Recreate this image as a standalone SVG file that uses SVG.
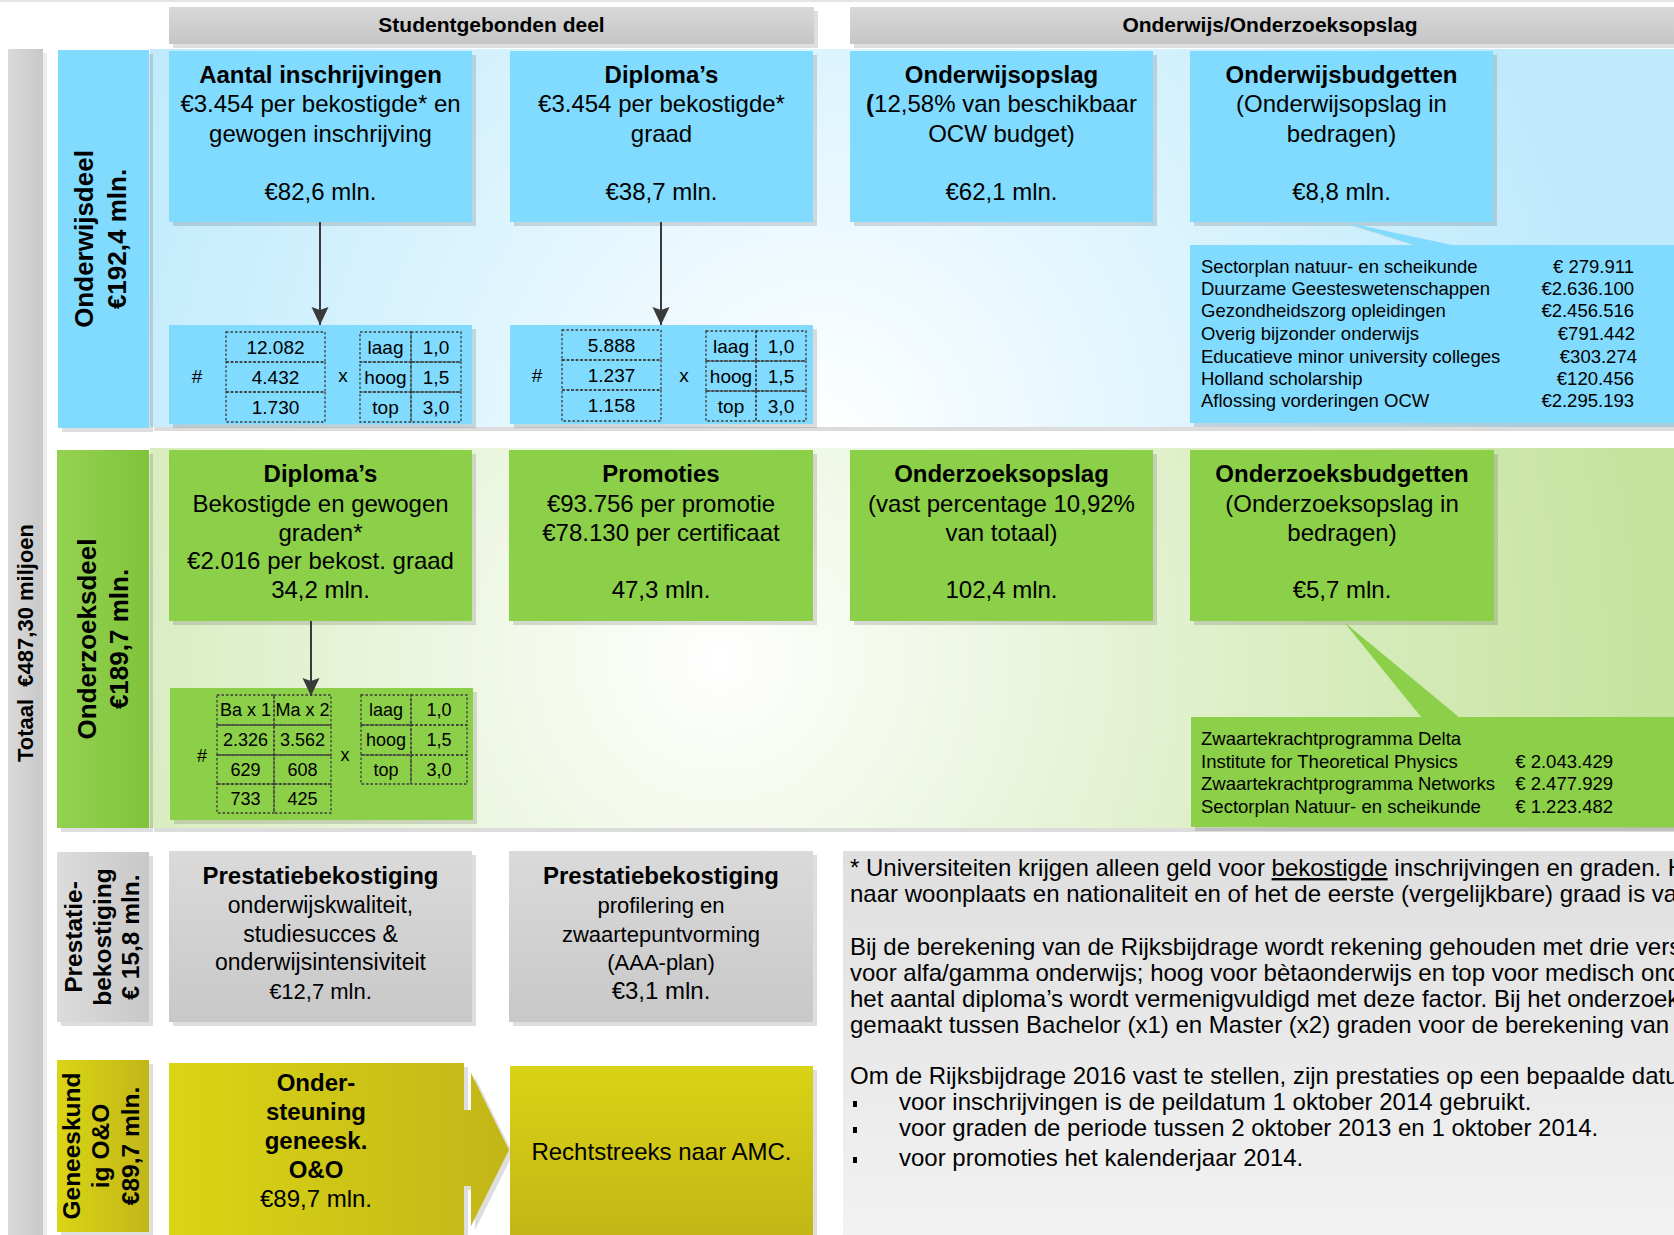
<svg xmlns="http://www.w3.org/2000/svg" width="1674" height="1235" viewBox="0 0 1674 1235">
<defs>
<style>
text{font-family:"Liberation Sans",Arial,sans-serif;fill:#000}
.b24{font-size:24px;font-weight:bold}
.r24{font-size:24px}
.r22{font-size:22px}
.h21{font-size:21px;font-weight:bold}
.c{text-anchor:middle}
.e{text-anchor:end}
.t19{font-size:19px}
.t18{font-size:18px}
.cal{font-size:18.5px}
.lab{font-size:26px;font-weight:bold}
.lab2{font-size:24.5px;font-weight:bold}
.blue{fill:#80dbff}
.green{fill:#8ccf48}
.sh{fill:#000;opacity:0.13}
.dot{fill:none;stroke:#3c3c3c;stroke-width:1.3;stroke-dasharray:2.5 2}
.con{stroke:#3a3a3a;stroke-width:2;fill:none}
</style>
<linearGradient id="gHead" x1="0" y1="0" x2="0" y2="1"><stop offset="0" stop-color="#d8d8d8"/><stop offset="1" stop-color="#c6c6c6"/></linearGradient>
<linearGradient id="gBar" x1="0" y1="0" x2="1" y2="0"><stop offset="0" stop-color="#dadada"/><stop offset="1" stop-color="#c8c8c8"/></linearGradient>
<radialGradient id="gBlueBand" gradientUnits="userSpaceOnUse" cx="820" cy="440" r="780" fx="820" fy="440"><stop offset="0" stop-color="#ffffff"/><stop offset="0.5" stop-color="#dcf4fe"/><stop offset="1" stop-color="#bfeafc"/></radialGradient>
<radialGradient id="gGreenBand" gradientUnits="userSpaceOnUse" cx="720" cy="660" r="950" fx="720" fy="660"><stop offset="0" stop-color="#ffffff"/><stop offset="0.5" stop-color="#e0f0cc"/><stop offset="1" stop-color="#c4e39c"/></radialGradient>
<linearGradient id="gGreenLab" x1="0" y1="0" x2="1" y2="0"><stop offset="0" stop-color="#94d252"/><stop offset="1" stop-color="#80c43a"/></linearGradient>
<linearGradient id="gGray" x1="0" y1="0" x2="0" y2="1"><stop offset="0" stop-color="#dadada"/><stop offset="1" stop-color="#c8c8c8"/></linearGradient>
<linearGradient id="gGrayLab" x1="0" y1="0" x2="1" y2="0"><stop offset="0" stop-color="#dcdcdc"/><stop offset="1" stop-color="#c8c8c8"/></linearGradient>
<linearGradient id="gYelH" x1="0" y1="0" x2="1" y2="0"><stop offset="0" stop-color="#dad515"/><stop offset="1" stop-color="#c2b618"/></linearGradient>
<linearGradient id="gYelV" x1="0" y1="0" x2="0" y2="1"><stop offset="0" stop-color="#d9d315"/><stop offset="1" stop-color="#c3b616"/></linearGradient>
<linearGradient id="gNote" x1="0" y1="0" x2="0" y2="1"><stop offset="0" stop-color="#dfdfdf"/><stop offset="1" stop-color="#f2f2f2"/></linearGradient>
<marker id="arr" markerUnits="userSpaceOnUse" markerWidth="18" markerHeight="18" refX="18" refY="8.5" orient="auto"><path d="M0,0 L18,8.5 L0,17 L3,8.5 Z" fill="#3a3a3a"/></marker>
</defs>
<rect width="1674" height="1235" fill="#ffffff"/>
<rect x="0" y="0" width="1674" height="2" fill="#e4e4e4"/>

<g id="totaal">
<rect x="8" y="49" width="35" height="1186" fill="url(#gBar)"/>
<rect x="43" y="53" width="4" height="1182" fill="#ececec"/>
<text class="h21" style="font-size:22px" text-anchor="middle" transform="translate(33,643) rotate(-90)">Totaal&#160; €487,30 miljoen</text>
</g>

<g id="header-student">
<rect x="173" y="11" width="645" height="37" class="sh"/>
<rect x="169" y="7" width="645" height="37" fill="url(#gHead)"/>
<text x="491.5" y="32" class="h21 c">Studentgebonden deel</text>
</g>
<g id="header-opslag">
<rect x="854" y="11" width="824" height="37" class="sh"/>
<rect x="850" y="7" width="824" height="37" fill="url(#gHead)"/>
<text x="1270" y="32" class="h21 c">Onderwijs/Onderzoeksopslag</text>
</g>

<g id="band-onderwijs">
<rect x="154" y="53" width="1520" height="378" fill="#dcdcdc"/>
<rect x="150" y="49" width="1524" height="378" fill="url(#gBlueBand)"/>
</g>
<g id="band-onderzoek">
<rect x="154" y="452" width="1520" height="380" fill="#dcdcdc"/>
<rect x="150" y="448" width="1524" height="380" fill="url(#gGreenBand)"/>
</g>

<g id="label-onderwijsdeel">
<rect x="62" y="54" width="91" height="378" class="sh"/>
<rect x="58" y="50" width="91" height="378" class="blue"/>
<text class="lab c" transform="translate(93,239) rotate(-90)">Onderwijsdeel</text>
<text class="lab c" transform="translate(126,239) rotate(-90)">€192,4 mln.</text>
</g>

<g id="node-aantal">
<rect x="173" y="55" width="303" height="171" class="sh"/>
<rect x="169" y="51" width="303" height="171" class="blue"/>
<text x="320.5" y="83" class="b24 c">Aantal inschrijvingen</text>
<text x="320.5" y="112" class="r24 c">€3.454 per bekostigde* en</text>
<text x="320.5" y="142" class="r24 c">gewogen inschrijving</text>
<text x="320.5" y="200" class="r24 c">€82,6 mln.</text>
</g>
<g id="node-diplomas-ow">
<rect x="514" y="55" width="303" height="171" class="sh"/>
<rect x="510" y="51" width="303" height="171" class="blue"/>
<text x="661.5" y="83" class="b24 c">Diploma’s</text>
<text x="661.5" y="112" class="r24 c">€3.454 per bekostigde*</text>
<text x="661.5" y="142" class="r24 c">graad</text>
<text x="661.5" y="200" class="r24 c">€38,7 mln.</text>
</g>
<g id="node-onderwijsopslag">
<rect x="854" y="55" width="303" height="171" class="sh"/>
<rect x="850" y="51" width="303" height="171" class="blue"/>
<text x="1001.5" y="83" class="b24 c">Onderwijsopslag</text>
<text x="1001.5" y="112" class="r24 c"><tspan font-weight="bold">(</tspan>12,58% van beschikbaar</text>
<text x="1001.5" y="142" class="r24 c">OCW budget)</text>
<text x="1001.5" y="200" class="r24 c">€62,1 mln.</text>
</g>
<g id="node-onderwijsbudgetten">
<rect x="1194" y="55" width="303" height="171" class="sh"/>
<rect x="1190" y="51" width="303" height="171" class="blue"/>
<text x="1341.5" y="83" class="b24 c">Onderwijsbudgetten</text>
<text x="1341.5" y="112" class="r24 c">(Onderwijsopslag in</text>
<text x="1341.5" y="142" class="r24 c">bedragen)</text>
<text x="1341.5" y="200" class="r24 c">€8,8 mln.</text>
</g>

<g id="table-inschrijvingen">
<rect x="173" y="329" width="303" height="99" class="sh"/>
<rect x="169" y="325" width="303" height="99" class="blue"/>
<rect x="226" y="332" width="99" height="30" class="dot"/>
<rect x="226" y="362" width="99" height="30" class="dot"/>
<rect x="226" y="392" width="99" height="30" class="dot"/>
<rect x="360" y="332" width="51" height="30" class="dot"/>
<rect x="360" y="362" width="51" height="30" class="dot"/>
<rect x="360" y="392" width="51" height="30" class="dot"/>
<rect x="411" y="332" width="50" height="30" class="dot"/>
<rect x="411" y="362" width="50" height="30" class="dot"/>
<rect x="411" y="392" width="50" height="30" class="dot"/>
<text x="197" y="383" class="t19 c">#</text>
<text x="343" y="382" class="t19 c">x</text>
<text x="275.5" y="354" class="t19 c">12.082</text>
<text x="275.5" y="384" class="t19 c">4.432</text>
<text x="275.5" y="414" class="t19 c">1.730</text>
<text x="385.5" y="354" class="t19 c">laag</text>
<text x="385.5" y="384" class="t19 c">hoog</text>
<text x="385.5" y="414" class="t19 c">top</text>
<text x="436" y="354" class="t19 c">1,0</text>
<text x="436" y="384" class="t19 c">1,5</text>
<text x="436" y="414" class="t19 c">3,0</text>
</g>
<g id="table-diplomas-ow">
<rect x="514" y="329" width="303" height="99" class="sh"/>
<rect x="510" y="325" width="303" height="99" class="blue"/>
<rect x="562" y="330" width="99" height="30" class="dot"/>
<rect x="562" y="360" width="99" height="30" class="dot"/>
<rect x="562" y="390" width="99" height="31" class="dot"/>
<rect x="706" y="331" width="50" height="30" class="dot"/>
<rect x="706" y="361" width="50" height="30" class="dot"/>
<rect x="706" y="391" width="50" height="30" class="dot"/>
<rect x="756" y="331" width="50" height="30" class="dot"/>
<rect x="756" y="361" width="50" height="30" class="dot"/>
<rect x="756" y="391" width="50" height="30" class="dot"/>
<text x="537" y="382" class="t19 c">#</text>
<text x="684" y="382" class="t19 c">x</text>
<text x="611.5" y="352" class="t19 c">5.888</text>
<text x="611.5" y="382" class="t19 c">1.237</text>
<text x="611.5" y="412" class="t19 c">1.158</text>
<text x="731" y="353" class="t19 c">laag</text>
<text x="731" y="383" class="t19 c">hoog</text>
<text x="731" y="413" class="t19 c">top</text>
<text x="781" y="353" class="t19 c">1,0</text>
<text x="781" y="383" class="t19 c">1,5</text>
<text x="781" y="413" class="t19 c">3,0</text>
</g>

<g id="callout-onderwijsbudgetten">
<rect x="1194" y="249" width="480" height="178" class="sh"/>
<polygon points="1346,224 1419,247 1459,247" fill="#b9c6cc" opacity="0.6"/>
<polygon points="1344,222 1417,246 1457,246" class="blue"/>
<rect x="1190" y="245" width="484" height="178" class="blue"/>
<text x="1201" y="273" class="cal">Sectorplan natuur- en scheikunde</text>
<text x="1201" y="295" class="cal">Duurzame Geesteswetenschappen</text>
<text x="1201" y="317" class="cal">Gezondheidszorg opleidingen</text>
<text x="1201" y="340" class="cal">Overig bijzonder onderwijs</text>
<text x="1201" y="363" class="cal">Educatieve minor university colleges</text>
<text x="1201" y="385" class="cal">Holland scholarship</text>
<text x="1201" y="407" class="cal">Aflossing vorderingen OCW</text>
<text x="1634" y="273" class="cal e">€ 279.911</text>
<text x="1634" y="295" class="cal e">€2.636.100</text>
<text x="1634" y="317" class="cal e">€2.456.516</text>
<text x="1635" y="340" class="cal e">€791.442</text>
<text x="1637" y="363" class="cal e">€303.274</text>
<text x="1634" y="385" class="cal e">€120.456</text>
<text x="1634" y="407" class="cal e">€2.295.193</text>
</g>

<g id="label-onderzoeksdeel">
<rect x="61" y="454" width="92" height="378" class="sh"/>
<rect x="57" y="450" width="92" height="378" fill="url(#gGreenLab)"/>
<text class="lab c" transform="translate(96,639) rotate(-90)">Onderzoeksdeel</text>
<text class="lab c" transform="translate(128,639) rotate(-90)">€189,7 mln.</text>
</g>

<g id="node-diplomas-oz">
<rect x="173" y="454" width="303" height="171" class="sh"/>
<rect x="169" y="450" width="303" height="171" class="green"/>
<text x="320.5" y="482" class="b24 c">Diploma’s</text>
<text x="320.5" y="512" class="r24 c">Bekostigde en gewogen</text>
<text x="320.5" y="541" class="r24 c">graden*</text>
<text x="320.5" y="569" class="r24 c">€2.016 per bekost. graad</text>
<text x="320.5" y="598" class="r24 c">34,2 mln.</text>
</g>
<g id="node-promoties">
<rect x="513" y="454" width="304" height="171" class="sh"/>
<rect x="509" y="450" width="304" height="171" class="green"/>
<text x="661" y="482" class="b24 c">Promoties</text>
<text x="661" y="512" class="r24 c">€93.756 per promotie</text>
<text x="661" y="541" class="r24 c">€78.130 per certificaat</text>
<text x="661" y="598" class="r24 c">47,3 mln.</text>
</g>
<g id="node-onderzoeksopslag">
<rect x="854" y="454" width="303" height="171" class="sh"/>
<rect x="850" y="450" width="303" height="171" class="green"/>
<text x="1001.5" y="482" class="b24 c">Onderzoeksopslag</text>
<text x="1001.5" y="512" class="r24 c">(vast percentage 10,92%</text>
<text x="1001.5" y="541" class="r24 c">van totaal)</text>
<text x="1001.5" y="598" class="r24 c">102,4 mln.</text>
</g>
<g id="node-onderzoeksbudgetten">
<rect x="1194" y="454" width="304" height="171" class="sh"/>
<rect x="1190" y="450" width="304" height="171" class="green"/>
<text x="1342" y="482" class="b24 c">Onderzoeksbudgetten</text>
<text x="1342" y="512" class="r24 c">(Onderzoeksopslag in</text>
<text x="1342" y="541" class="r24 c">bedragen)</text>
<text x="1342" y="598" class="r24 c">€5,7 mln.</text>
</g>

<g id="table-diplomas-oz">
<rect x="174" y="692" width="303" height="132" class="sh"/>
<rect x="170" y="688" width="303" height="132" class="green"/>
<rect x="217" y="695" width="57" height="30" class="dot"/>
<rect x="217" y="725" width="57" height="30" class="dot"/>
<rect x="217" y="755" width="57" height="29" class="dot"/>
<rect x="217" y="784" width="57" height="29" class="dot"/>
<rect x="274" y="695" width="57" height="30" class="dot"/>
<rect x="274" y="725" width="57" height="30" class="dot"/>
<rect x="274" y="755" width="57" height="29" class="dot"/>
<rect x="274" y="784" width="57" height="29" class="dot"/>
<rect x="361" y="695" width="50" height="30" class="dot"/>
<rect x="361" y="725" width="50" height="30" class="dot"/>
<rect x="361" y="755" width="50" height="29" class="dot"/>
<rect x="411" y="695" width="56" height="30" class="dot"/>
<rect x="411" y="725" width="56" height="30" class="dot"/>
<rect x="411" y="755" width="56" height="29" class="dot"/>
<text x="202" y="762" class="t18 c">#</text>
<text x="345" y="761" class="t18 c">x</text>
<text x="245.5" y="716" class="t18 c">Ba x 1</text>
<text x="302.5" y="716" class="t18 c">Ma x 2</text>
<text x="245.5" y="746" class="t18 c">2.326</text>
<text x="302.5" y="746" class="t18 c">3.562</text>
<text x="245.5" y="776" class="t18 c">629</text>
<text x="302.5" y="776" class="t18 c">608</text>
<text x="245.5" y="805" class="t18 c">733</text>
<text x="302.5" y="805" class="t18 c">425</text>
<text x="386" y="716" class="t18 c">laag</text>
<text x="386" y="746" class="t18 c">hoog</text>
<text x="386" y="776" class="t18 c">top</text>
<text x="439" y="716" class="t18 c">1,0</text>
<text x="439" y="746" class="t18 c">1,5</text>
<text x="439" y="776" class="t18 c">3,0</text>
</g>

<g id="callout-onderzoeksbudgetten">
<rect x="1195" y="721" width="479" height="110" class="sh"/>
<polygon points="1344,622 1422,718 1460,718" class="green"/>
<rect x="1191" y="717" width="483" height="110" class="green"/>
<text x="1201" y="744.5" class="cal">Zwaartekrachtprogramma Delta</text>
<text x="1201" y="767.5" class="cal">Institute for Theoretical Physics</text>
<text x="1201" y="789.5" class="cal">Zwaartekrachtprogramma Networks</text>
<text x="1201" y="812.5" class="cal">Sectorplan Natuur- en scheikunde</text>
<text x="1613" y="767.5" class="cal e">€ 2.043.429</text>
<text x="1613" y="789.5" class="cal e">€ 2.477.929</text>
<text x="1613" y="812.5" class="cal e">€ 1.223.482</text>
</g>

<g id="label-prestatie">
<rect x="61" y="856" width="92" height="170" class="sh"/>
<rect x="57" y="852" width="92" height="170" fill="url(#gGrayLab)"/>
<text class="lab2 c" transform="translate(82,937) rotate(-90)">Prestatie-</text>
<text class="lab2 c" transform="translate(111,937) rotate(-90)">bekostiging</text>
<text class="lab2 c" transform="translate(139,937) rotate(-90)">€ 15,8 mln.</text>
</g>
<g id="node-prestatie-1">
<rect x="173" y="855" width="303" height="171" class="sh"/>
<rect x="169" y="851" width="303" height="171" fill="url(#gGray)"/>
<text x="320.5" y="884" class="b24 c">Prestatiebekostiging</text>
<text x="320.5" y="913" class="r22 c" style="font-size:23px">onderwijskwaliteit,</text>
<text x="320.5" y="942" class="r22 c" style="font-size:23px">studiesucces &amp;</text>
<text x="320.5" y="970" class="r22 c" style="font-size:23px">onderwijsintensiviteit</text>
<text x="320.5" y="999" class="r22 c">€12,7 mln.</text>
</g>
<g id="node-prestatie-2">
<rect x="513" y="855" width="304" height="171" class="sh"/>
<rect x="509" y="851" width="304" height="171" fill="url(#gGray)"/>
<text x="661" y="884" class="b24 c">Prestatiebekostiging</text>
<text x="661" y="913" class="r22 c">profilering en</text>
<text x="661" y="942" class="r22 c">zwaartepuntvorming</text>
<text x="661" y="970" class="r22 c">(AAA-plan)</text>
<text x="661" y="999" class="r24 c">€3,1 mln.</text>
</g>

<g id="label-geneeskundig">
<rect x="61" y="1064" width="92" height="172" class="sh"/>
<rect x="57" y="1060" width="92" height="172" fill="url(#gYelH)"/>
<text class="lab2 c" transform="translate(80,1146) rotate(-90)">Geneeskund</text>
<text class="lab2 c" transform="translate(109,1146) rotate(-90)">ig O&amp;O</text>
<text class="lab2 c" transform="translate(139,1146) rotate(-90)">€89,7 mln.</text>
</g>
<g id="node-ondersteuning">
<polygon points="173,1067 468,1067 468,1114 475,1114 475,1077 513,1154 475,1230 475,1190 468,1190 468,1239 173,1239" class="sh"/>
<polygon points="169,1063 464,1063 464,1110 471,1110 471,1073 509,1150 471,1226 471,1186 464,1186 464,1235 169,1235" fill="url(#gYelH)"/>
<text x="316" y="1091" class="b24 c">Onder-</text>
<text x="316" y="1120" class="b24 c">steuning</text>
<text x="316" y="1149" class="b24 c">geneesk.</text>
<text x="316" y="1178" class="b24 c">O&amp;O</text>
<text x="316" y="1207" class="r24 c">€89,7 mln.</text>
</g>
<g id="node-amc">
<rect x="514" y="1070" width="303" height="170" class="sh"/>
<rect x="510" y="1066" width="303" height="170" fill="url(#gYelV)"/>
<text x="661.5" y="1160" class="r24 c">Rechtstreeks naar AMC.</text>
</g>

<g id="note">
<rect x="843" y="851" width="831" height="384" fill="url(#gNote)"/>
<text x="850" y="876" class="r24">* Universiteiten krijgen alleen geld voor <tspan text-decoration="underline">bekostigde</tspan> inschrijvingen en graden. H</text>
<text x="850" y="902" class="r24">naar woonplaats en nationaliteit en of het de eerste (vergelijkbare) graad is va</text>
<text x="850" y="955" class="r24">Bij de berekening van de Rijksbijdrage wordt rekening gehouden met drie vers</text>
<text x="850" y="981" class="r24">voor alfa/gamma onderwijs; hoog voor bètaonderwijs en top voor medisch ond</text>
<text x="850" y="1007" class="r24">het aantal diploma’s wordt vermenigvuldigd met deze factor. Bij het onderzoek</text>
<text x="850" y="1033" class="r24">gemaakt tussen Bachelor (x1) en Master (x2) graden voor de berekening van</text>
<text x="850" y="1084" class="r24">Om de Rijksbijdrage 2016 vast te stellen, zijn prestaties op een bepaalde datu</text>
<rect x="853" y="1101" width="4" height="6" fill="#000"/>
<text x="899" y="1110" class="r24">voor inschrijvingen is de peildatum 1 oktober 2014 gebruikt.</text>
<rect x="853" y="1127" width="4" height="6" fill="#000"/>
<text x="899" y="1136" class="r24">voor graden de periode tussen 2 oktober 2013 en 1 oktober 2014.</text>
<rect x="853" y="1157" width="4" height="6" fill="#000"/>
<text x="899" y="1166" class="r24">voor promoties het kalenderjaar 2014.</text>
</g>

<g id="connectors">
<line x1="320" y1="222" x2="320" y2="325" class="con" marker-end="url(#arr)"/>
<line x1="661" y1="222" x2="661" y2="325" class="con" marker-end="url(#arr)"/>
<line x1="311" y1="621" x2="311" y2="696" class="con" marker-end="url(#arr)"/>
</g>
</svg>
